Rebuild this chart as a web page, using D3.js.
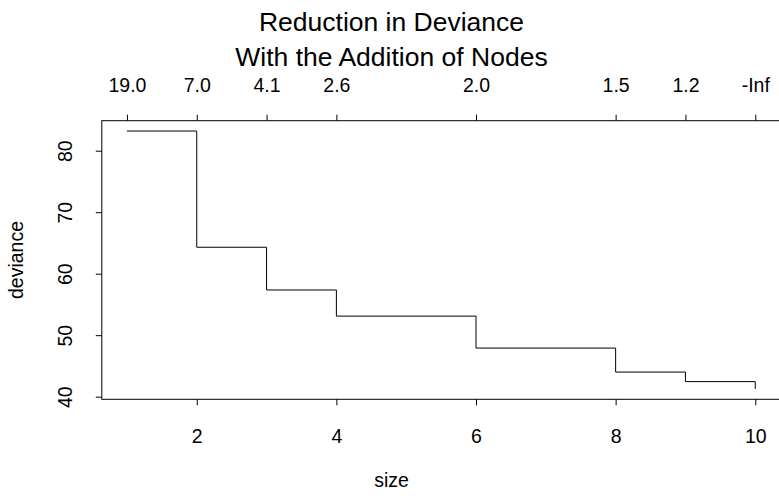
<!DOCTYPE html>
<html>
<head>
<meta charset="utf-8">
<script src="https://cdn.jsdelivr.net/npm/d3@7"></script>
<style>
  body { margin: 0; background: #fff; }
  svg { display: block; font-family: "Liberation Sans", Arial, Helvetica, sans-serif; }
</style>
</head>
<body>
<div id="chart"></div>
<script>
/* Reduction in deviance step plot */

const sizes = [1, 2, 3, 4, 6, 8, 9, 10];
const deviance = [83.2, 64.3, 57.35, 53.1, 47.9, 44.0, 42.45, 41.25];
const kLabels = ["19.0", "7.0", "4.1", "2.6", "2.0", "1.5", "1.2", "-Inf"];
const xTicks = [2, 4, 6, 8, 10];
const yTicks = [40, 50, 60, 70, 80];

const data = sizes.map((s, i) => ({ size: s, dev: deviance[i] }));

const width = 779,
      height = 498,
      margin = ({ top: 120.7, right: -1.4, bottom: 98.7, left: 101.8 });

let svg = d3.select("#chart")
    .append("svg")
    .attr("width", width)
    .attr("height", height);

// R style 4% padding on both axes
const xExt = d3.extent(sizes), yExt = d3.extent(deviance);
const xPad = (xExt[1] - xExt[0]) * 0.04, yPad = (yExt[1] - yExt[0]) * 0.04;

let x = d3.scaleLinear()
    .domain([xExt[0] - xPad, xExt[1] + xPad])
    .range([margin.left, width - margin.right]);

let y = d3.scaleLinear()
    .domain([yExt[0] - yPad, yExt[1] + yPad])
    .range([height - margin.bottom, margin.top]);

const fs = 19.5;

// bottom axis
let gx = svg.append("g")
    .attr("transform", `translate(0,${y.range()[0]})`)
    .call(d3.axisBottom(x).tickValues(xTicks).tickFormat(d3.format("d")).tickSize(6));
gx.selectAll("text").attr("y", 30).attr("dy", "0.71em");

// top axis with k values
let gt = svg.append("g")
    .attr("transform", `translate(0,${y.range()[1]})`)
    .call(d3.axisTop(x).tickValues(sizes).tickFormat((d, i) => kLabels[i]).tickSize(6));
gt.selectAll("text").attr("y", -28.6).attr("dy", 0);

// left axis, labels parallel to axis
let gy = svg.append("g")
    .attr("transform", `translate(${x.range()[0]},0)`)
    .call(d3.axisLeft(y).tickValues(yTicks).tickSize(6));
gy.selectAll("text")
    .attr("x", null).attr("dy", null)
    .attr("text-anchor", "middle")
    .attr("transform", "translate(-29.5,0) rotate(-90)");

svg.selectAll(".domain").remove();
svg.selectAll(".tick line").attr("stroke", "#000");
svg.selectAll(".tick text")
    .style("font-size", fs + "px")
    .style("fill", "#000");

// box
svg.append("rect")
    .attr("x", x.range()[0])
    .attr("y", y.range()[1])
    .attr("width", x.range()[1] - x.range()[0])
    .attr("height", y.range()[0] - y.range()[1])
    .attr("fill", "none")
    .attr("stroke", "#000");

// step line
let line = d3.line()
    .curve(d3.curveStepAfter)
    .x(d => x(d.size))
    .y(d => y(d.dev));

svg.append("path")
    .datum(data)
    .attr("fill", "none")
    .attr("stroke", "#000")
    .attr("stroke-width", 1)
    .attr("d", line);

// titles and axis labels
const cx = width / 2;
const cy = (y.range()[0] + y.range()[1]) / 2;

svg.append("text")
    .attr("x", cx + 2).attr("y", 31)
    .attr("text-anchor", "middle")
    .style("font-size", "26.5px")
    .text("Reduction in Deviance");

svg.append("text")
    .attr("x", cx + 2).attr("y", 66)
    .attr("text-anchor", "middle")
    .style("font-size", "26.5px")
    .text("With the Addition of Nodes");

svg.append("text")
    .attr("x", cx + 2).attr("y", 487)
    .attr("text-anchor", "middle")
    .style("font-size", fs + "px")
    .text("size");

svg.append("text")
    .attr("transform", `translate(23,${cy}) rotate(-90)`)
    .attr("text-anchor", "middle")
    .style("font-size", fs + "px")
    .text("deviance");
</script>
</body>
</html>
